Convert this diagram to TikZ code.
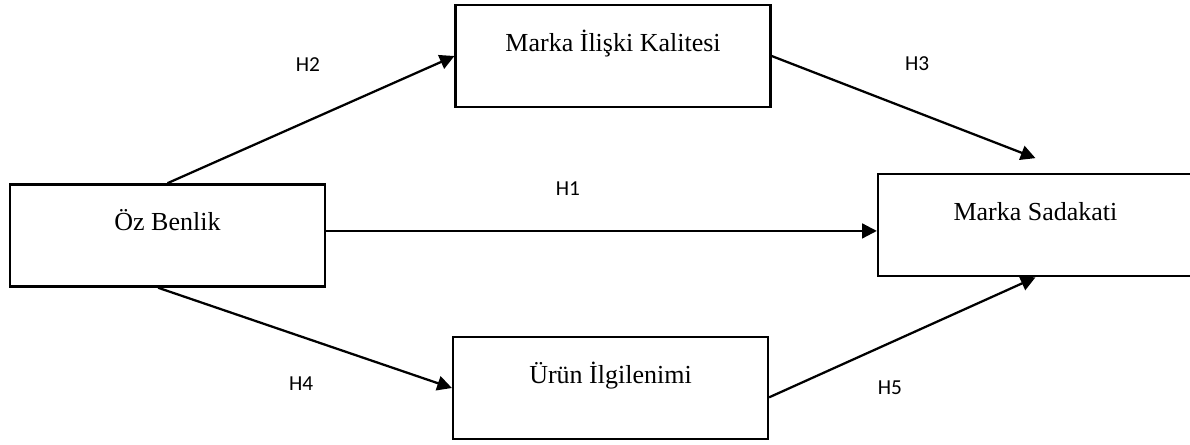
\documentclass[tikz,border=0pt]{standalone}
\usepackage{fontspec}
\setmainfont{Liberation Serif}
\newfontfamily\labelfont{Carlito}
\usepackage{tikz}
\usetikzlibrary{arrows.meta}
\usetikzlibrary{calc}

\begin{document}
\begin{tikzpicture}[
  kutu/.style={shape=rectangle, minimum width=236pt, inner sep=0pt, text height=34.5pt, text depth=42pt, line width=1.9pt, draw=black, font=\fontsize{19.5}{23}\selectfont},
  ok/.style={line width=1.7pt, -{Triangle[length=11pt,width=11pt]}},
  etiket/.style={font=\labelfont\fontsize{16}{19}\selectfont}]
\clip (0pt,0pt) rectangle (892.5pt,-333pt);
\node[kutu] (oz) at (125.6pt,-176.6pt) {Öz Benlik};
\node[kutu] (mik) at (459.8pt,-42pt) {Marka İlişki Kalitesi};
\node[kutu] (ms) at (776.6pt,-168.8pt) {Marka Sadakati};
\node[kutu] (ui) at (457.9pt,-291pt) {Ürün İlgilenimi};
\draw[ok] (oz.north) -- (mik.west); %H2
\draw[ok] (mik.east) -- ([yshift=11pt]ms.north); %H3
\draw[ok] ([yshift=3.4pt]oz.east) -- ([yshift=3.4pt]oz.east -| ms.west); %H1
\draw[ok] ([xshift=-7pt]oz.south) -- (ui.west); %H4
\draw[ok] ([yshift=-7pt]ui.east) -- (ms.south); %H5
\node[etiket] (h2) at (231pt,-48.8pt) {H2};
\node[etiket] (h3) at (687.8pt,-48pt) {H3};
\node[etiket] (h1) at (426pt,-141.8pt) {H1};
\node[etiket] (h4) at (225.8pt,-288pt) {H4};
\node[etiket] (h5) at (667.5pt,-291pt) {H5};
\end{tikzpicture}
\end{document}
